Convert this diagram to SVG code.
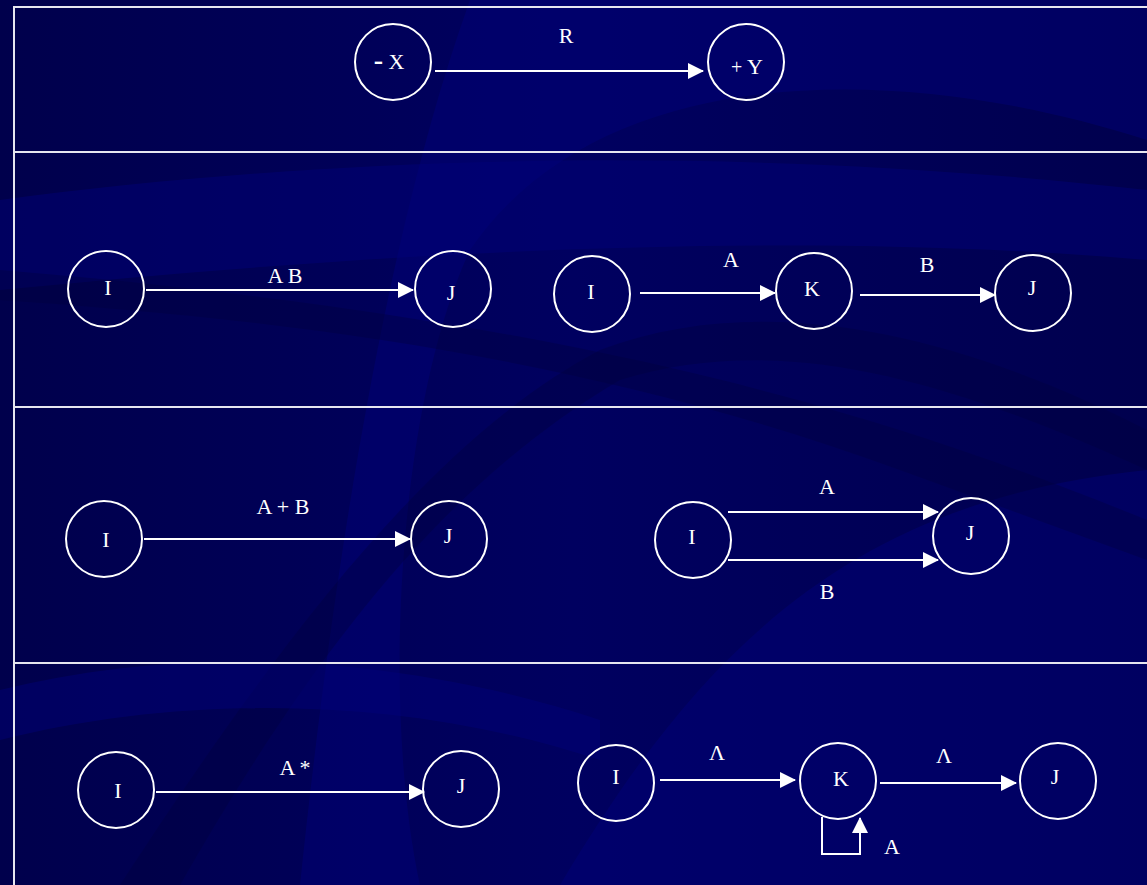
<svg xmlns="http://www.w3.org/2000/svg" width="1147" height="885" viewBox="0 0 1147 885">
<defs>
<linearGradient id="bg" x1="0" y1="0" x2="1" y2="0">
<stop offset="0" stop-color="#00004c"/>
<stop offset="0.5" stop-color="#000060"/>
<stop offset="1" stop-color="#00004e"/>
</linearGradient>
<marker id="ah" viewBox="0 0 16 16" refX="15" refY="8" markerWidth="16" markerHeight="16" markerUnits="userSpaceOnUse" orient="auto">
<path d="M0,0 L16,8 L0,16 Z" fill="#ffffff"/>
</marker>
<style>
.frame{stroke:#e6e6f0;stroke-width:2;fill:none}
.node circle{fill:none;stroke:#ffffff;stroke-width:2}
.node text,.lbl{fill:#ffffff;font-family:"Liberation Serif","Times New Roman",serif;font-size:22px;text-anchor:middle}
.edge{stroke:#ffffff;stroke-width:2;fill:none}
.sw{fill:#00007a;opacity:0.45}
.dk{fill:#00003c;opacity:0.35}
</style>
</defs>
<g id="background">
<rect x="0" y="0" width="1147" height="885" fill="url(#bg)"/>
<path class="sw" d="M300,885 C330,600 380,250 470,0 L1147,0 L1147,140 C900,60 600,60 470,250 C400,400 380,700 420,885 Z"/>
<path class="sw" d="M0,200 C300,160 700,140 1147,190 L1147,260 C800,230 400,250 0,290 Z"/>
<path class="sw" d="M560,885 C700,650 850,500 1147,470 L1147,885 Z"/>
<path class="dk" d="M180,885 C320,640 450,480 620,380 C780,330 950,380 1147,470 L1147,430 C950,330 760,290 600,350 C430,440 280,640 120,885 Z"/>
<path class="dk" d="M0,300 C300,320 600,360 900,470 L1147,560 L1147,520 C900,420 600,320 0,270 Z"/>
<path class="sw" d="M0,690 C200,640 420,660 600,720 L600,760 C420,700 200,690 0,740 Z"/>
</g>
<g id="frame">
<line class="frame" x1="13" y1="7" x2="1147" y2="7"/>
<line class="frame" x1="13" y1="152" x2="1147" y2="152"/>
<line class="frame" x1="13" y1="407" x2="1147" y2="407"/>
<line class="frame" x1="13" y1="663" x2="1147" y2="663"/>
<line class="frame" x1="14" y1="6" x2="14" y2="885"/>
</g>
<g id="connectors">
<line class="edge" x1="435" y1="71" x2="703" y2="71" marker-end="url(#ah)"/>
<line class="edge" x1="146" y1="290" x2="413" y2="290" marker-end="url(#ah)"/>
<line class="edge" x1="640" y1="293" x2="775" y2="293" marker-end="url(#ah)"/>
<line class="edge" x1="860" y1="295" x2="995" y2="295" marker-end="url(#ah)"/>
<line class="edge" x1="144" y1="539" x2="410" y2="539" marker-end="url(#ah)"/>
<line class="edge" x1="728" y1="512" x2="938" y2="512" marker-end="url(#ah)"/>
<line class="edge" x1="728" y1="560" x2="938" y2="560" marker-end="url(#ah)"/>
<line class="edge" x1="156" y1="792" x2="424" y2="792" marker-end="url(#ah)"/>
<line class="edge" x1="660" y1="780" x2="795" y2="780" marker-end="url(#ah)"/>
<line class="edge" x1="880" y1="783" x2="1016" y2="783" marker-end="url(#ah)"/>
<polyline class="edge" points="822,817 822,854 860,854 860,818" marker-end="url(#ah)"/>
<text class="lbl" x="566" y="43">R</text>
<text class="lbl" x="285" y="283">A B</text>
<text class="lbl" x="731" y="267">A</text>
<text class="lbl" x="927" y="272">B</text>
<text class="lbl" x="283" y="514">A + B</text>
<text class="lbl" x="827" y="494">A</text>
<text class="lbl" x="827" y="599">B</text>
<text class="lbl" x="295" y="775">A *</text>
<text class="lbl" x="717" y="760">Λ</text>
<text class="lbl" x="944" y="763">Λ</text>
<text class="lbl" x="892" y="854">A</text>
</g>
<g id="n-x" class="node"><circle cx="393" cy="62" r="38"/><text x="389" y="69"><tspan font-weight="bold" font-size="28">-</tspan> X</text></g>
<g id="n-y" class="node"><circle cx="746" cy="62" r="38"/><text x="747" y="74"><tspan font-size="20">+</tspan> Y</text></g>
<g id="r2-i1" class="node"><circle cx="106" cy="289" r="38"/><text x="108" y="295">I</text></g>
<g id="r2-j1" class="node"><circle cx="453" cy="289" r="38"/><text x="451" y="300">J</text></g>
<g id="r2-i2" class="node"><circle cx="592" cy="294" r="38"/><text x="591" y="299">I</text></g>
<g id="r2-k" class="node"><circle cx="814" cy="291" r="38"/><text x="812" y="296">K</text></g>
<g id="r2-j2" class="node"><circle cx="1033" cy="293" r="38"/><text x="1032" y="295">J</text></g>
<g id="r3-i1" class="node"><circle cx="104" cy="539" r="38"/><text x="106" y="547">I</text></g>
<g id="r3-j1" class="node"><circle cx="449" cy="539" r="38"/><text x="448" y="543">J</text></g>
<g id="r3-i2" class="node"><circle cx="693" cy="540" r="38"/><text x="692" y="544">I</text></g>
<g id="r3-j2" class="node"><circle cx="971" cy="536" r="38"/><text x="970" y="540">J</text></g>
<g id="r4-i1" class="node"><circle cx="116" cy="790" r="38"/><text x="118" y="798">I</text></g>
<g id="r4-j1" class="node"><circle cx="461" cy="789" r="38"/><text x="461" y="793">J</text></g>
<g id="r4-i2" class="node"><circle cx="616" cy="783" r="38"/><text x="616" y="784">I</text></g>
<g id="r4-k" class="node"><circle cx="838" cy="781" r="38"/><text x="841" y="786">K</text></g>
<g id="r4-j2" class="node"><circle cx="1058" cy="781" r="38"/><text x="1055" y="784">J</text></g>
</svg>
